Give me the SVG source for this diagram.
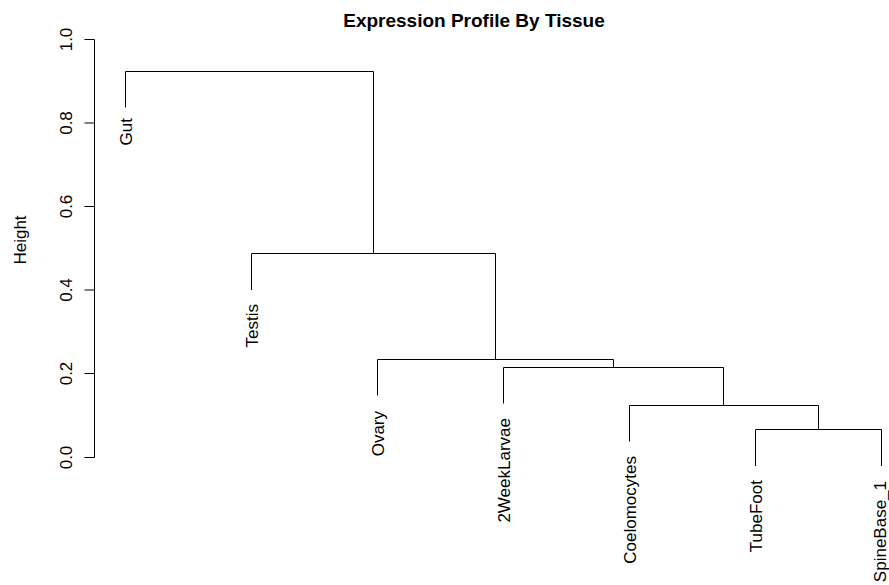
<svg xmlns="http://www.w3.org/2000/svg" width="889" height="585" viewBox="0 0 889 585">
<style>
  .ln{stroke:#000;stroke-width:1;fill:none}
  .t{font-family:"Liberation Sans",Arial,sans-serif;font-size:17px;fill:#000}
  .lab{text-anchor:end}
  .tick{text-anchor:middle}
  .title{font-family:"Liberation Sans",Arial,sans-serif;font-size:19px;font-weight:bold;text-anchor:middle;fill:#000}
</style>
<rect width="889" height="585" fill="#fff"/>
<text class="title" x="474" y="26.5">Expression Profile By Tissue</text>
<g id="axis">
  <path class="ln" d="M94.5 39.5V457.5M84.5 39.5H94.5M84.5 123H94.5M84.5 206.5H94.5M84.5 290H94.5M84.5 373.5H94.5M84.5 457.5H94.5"/>
  <text class="t tick" transform="translate(71.5,457.5) rotate(-90)">0.0</text>
  <text class="t tick" transform="translate(71.5,373.5) rotate(-90)">0.2</text>
  <text class="t tick" transform="translate(71.5,290) rotate(-90)">0.4</text>
  <text class="t tick" transform="translate(71.5,206.5) rotate(-90)">0.6</text>
  <text class="t tick" transform="translate(71.5,123) rotate(-90)">0.8</text>
  <text class="t tick" transform="translate(71.5,39.5) rotate(-90)">1.0</text>
  <text class="t tick" transform="translate(25.5,240) rotate(-90)">Height</text>
</g>
<g id="connectors">
  <path class="ln" d="M125.5 107.5V71.5H373.5V253.5"/>
  <path class="ln" d="M251.5 290V253.5H495.5V359.5"/>
  <path class="ln" d="M377.5 395.5V359.5H613.5V367.5"/>
  <path class="ln" d="M503.5 403.5V367.5H723.5V405.5"/>
  <path class="ln" d="M629.5 441.5V405.5H818.5V429.5"/>
  <path class="ln" d="M755.5 466V429.5H881.5V466"/>
</g>
<g id="Gut"><text class="t lab" transform="translate(131.5,118) rotate(-90)">Gut</text></g>
<g id="Testis"><text class="t lab" transform="translate(257.5,304) rotate(-90)">Testis</text></g>
<g id="Ovary"><text class="t lab" transform="translate(383.5,411) rotate(-90)">Ovary</text></g>
<g id="2WeekLarvae"><text class="t lab" transform="translate(509.5,418) rotate(-90)">2WeekLarvae</text></g>
<g id="Coelomocytes"><text class="t lab" transform="translate(635.5,456) rotate(-90)">Coelomocytes</text></g>
<g id="TubeFoot"><text class="t lab" transform="translate(761.5,480) rotate(-90)">TubeFoot</text></g>
<g id="SpineBase_1"><text class="t lab" transform="translate(885.5,481) rotate(-90)">SpineBase_1</text></g>
</svg>
